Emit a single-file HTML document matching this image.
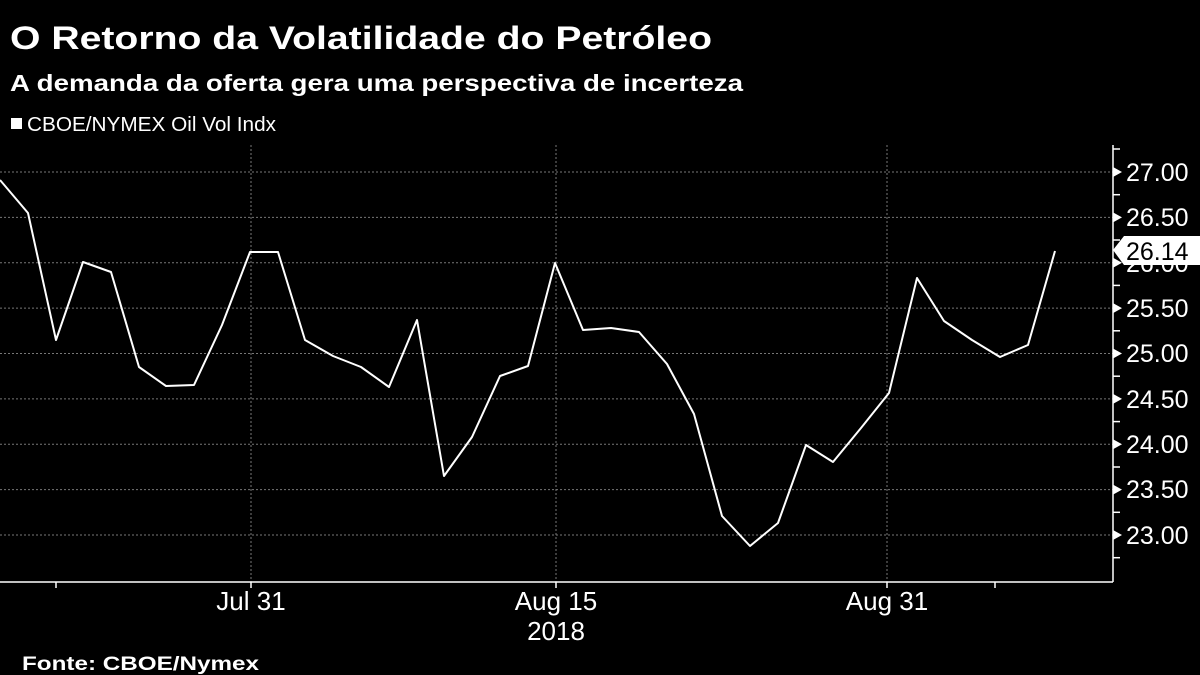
<!DOCTYPE html>
<html><head><meta charset="utf-8"><style>
html,body{margin:0;padding:0;background:#000;width:1200px;height:675px;overflow:hidden}
svg{display:block}
text{font-family:"Liberation Sans","DejaVu Sans",sans-serif;fill:#fff}
</style></head><body>
<svg width="1200" height="675" viewBox="0 0 1200 675">
<text x="10" y="49" font-size="32" font-weight="bold" textLength="702" lengthAdjust="spacingAndGlyphs">O Retorno da Volatilidade do Petróleo</text>
<text x="10" y="91" font-size="23" font-weight="bold" textLength="733" lengthAdjust="spacingAndGlyphs">A demanda da oferta gera uma perspectiva de incerteza</text>
<rect x="11" y="118" width="11" height="11" fill="#fff"/>
<text x="27" y="131" font-size="20" textLength="249" lengthAdjust="spacingAndGlyphs">CBOE/NYMEX Oil Vol Indx</text>
<g stroke="#777" stroke-width="1" stroke-dasharray="2,2">
<line x1="0" x2="1113" y1="172" y2="172"/><line x1="0" x2="1113" y1="217.4" y2="217.4"/>
<line x1="0" x2="1113" y1="262.8" y2="262.8"/><line x1="0" x2="1113" y1="308.1" y2="308.1"/>
<line x1="0" x2="1113" y1="353.5" y2="353.5"/><line x1="0" x2="1113" y1="398.9" y2="398.9"/>
<line x1="0" x2="1113" y1="444.3" y2="444.3"/><line x1="0" x2="1113" y1="489.6" y2="489.6"/>
<line x1="0" x2="1113" y1="535" y2="535"/>
<line x1="251" x2="251" y1="145" y2="582"/><line x1="556" x2="556" y1="145" y2="582"/><line x1="887" x2="887" y1="145" y2="582"/>
</g>
<g stroke="#fff" stroke-width="1.5">
<line x1="0" x2="1113" y1="582" y2="582"/>
<line x1="1113" x2="1113" y1="145" y2="582"/>
<line x1="56" x2="56" y1="582" y2="588"/><line x1="251" x2="251" y1="582" y2="588"/>
<line x1="556" x2="556" y1="582" y2="588"/><line x1="887" x2="887" y1="582" y2="588"/><line x1="995" x2="995" y1="582" y2="588"/>
<line x1="1113" x2="1120" y1="149" y2="149"/><line x1="1113" x2="1120" y1="194.7" y2="194.7"/>
<line x1="1113" x2="1120" y1="240" y2="240"/><line x1="1113" x2="1120" y1="285.4" y2="285.4"/>
<line x1="1113" x2="1120" y1="330.8" y2="330.8"/><line x1="1113" x2="1120" y1="376.2" y2="376.2"/>
<line x1="1113" x2="1120" y1="421.6" y2="421.6"/><line x1="1113" x2="1120" y1="467" y2="467"/>
<line x1="1113" x2="1120" y1="512.3" y2="512.3"/><line x1="1113" x2="1120" y1="557.7" y2="557.7"/>
</g>
<g fill="#fff">
<polygon points="1113,167 1122,172 1113,177"/><polygon points="1113,212.4 1122,217.4 1113,222.4"/>
<polygon points="1113,257.8 1122,262.8 1113,267.8"/><polygon points="1113,303.1 1122,308.1 1113,313.1"/>
<polygon points="1113,348.5 1122,353.5 1113,358.5"/><polygon points="1113,393.9 1122,398.9 1113,403.9"/>
<polygon points="1113,439.3 1122,444.3 1113,449.3"/><polygon points="1113,484.6 1122,489.6 1113,494.6"/>
<polygon points="1113,530 1122,535 1113,540"/>
</g>
<g font-size="25">
<text x="1126" y="181">27.00</text><text x="1126" y="226">26.50</text><text x="1126" y="272">26.00</text>
<text x="1126" y="317">25.50</text><text x="1126" y="362">25.00</text><text x="1126" y="408">24.50</text>
<text x="1126" y="453">24.00</text><text x="1126" y="498">23.50</text><text x="1126" y="544">23.00</text>
</g>
<polygon points="1113,250 1124,236 1200,236 1200,265 1124,265" fill="#fff"/>
<text x="1126" y="260" font-size="25" style="fill:#000">26.14</text>
<polyline fill="none" stroke="#fff" stroke-width="2" stroke-linejoin="round" points="0,180 28,213 56,340 83,262 111,272 139,367 166,386 194,385 222,325 250,252 278,252 305,340 333,356 361,367 389,387 417,320 444,476 472,437 500,376 528,366 555,263 583,330 611,328 639,332 667,364 694,414 722,516 750,546 778,523 806,445 833,462 861,428 889,393 917,278 944,321 972,340 1000,357 1028,345 1055,251"/>
<g font-size="26" text-anchor="middle">
<text x="251" y="610">Jul 31</text><text x="556" y="610">Aug 15</text><text x="556" y="640">2018</text><text x="887" y="610">Aug 31</text>
</g>
<text x="22" y="670" font-size="19" font-weight="bold" textLength="237" lengthAdjust="spacingAndGlyphs">Fonte:  CBOE/Nymex</text>
</svg>
</body></html>
